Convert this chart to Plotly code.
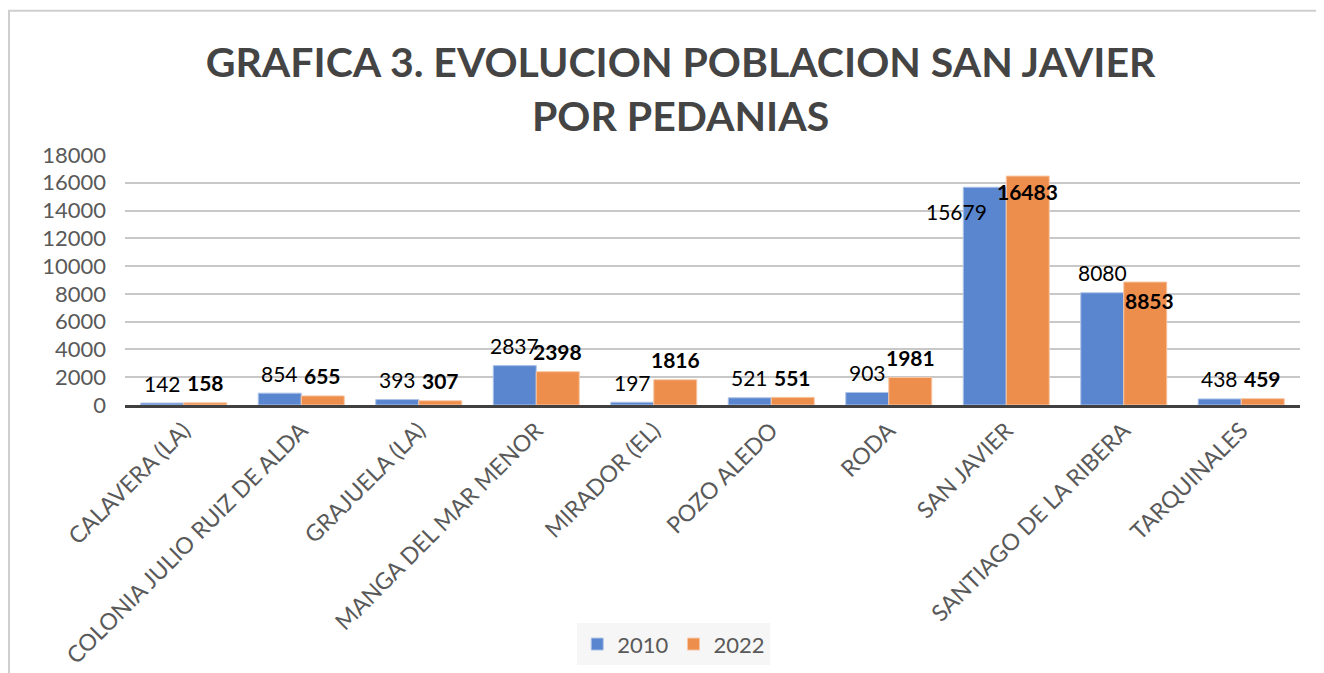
import plotly.graph_objects as go

# Datos de la grafica
pedanias = ["CALAVERA (LA)", "COLONIA JULIO RUIZ DE ALDA", "GRAJUELA (LA)",
            "MANGA DEL MAR MENOR", "MIRADOR (EL)", "POZO ALEDO", "RODA",
            "SAN JAVIER", "SANTIAGO DE LA RIBERA", "TARQUINALES"]
pob_2010 = [142, 854, 393, 2837, 197, 521, 903, 15679, 8080, 438]
pob_2022 = [158, 655, 307, 2398, 1816, 551, 1981, 16483, 8853, 459]
y_ticks = [0, 2000, 4000, 6000, 8000, 10000, 12000, 14000, 16000, 18000]

AZUL = "#5a86cf"
NARANJA = "#ee8e4d"
FUENTE = "Lato"

fig = go.Figure()
fig.add_trace(go.Bar(x=pedanias, y=pob_2010, name="2010",
                     marker=dict(color=AZUL, line=dict(color="#aec3e8", width=1))))
fig.add_trace(go.Bar(x=pedanias, y=pob_2022, name="2022",
                     marker=dict(color=NARANJA, line=dict(color="#f6c7a6", width=1))))

# Etiquetas de datos (algunas movidas a mano como en el original)
ajustes = {("2010", "SAN JAVIER"): (-28, -24),
           ("2022", "SAN JAVIER"): (0, -15),
           ("2022", "SANTIAGO DE LA RIBERA"): (4, -18)}
for serie, valores, dx, negrita in [("2010", pob_2010, -21.5, False),
                                     ("2022", pob_2022, 21.5, True)]:
    for cat, v in zip(pedanias, valores):
        ax, ay = ajustes.get((serie, cat), (0, 20))
        txt = f"<b>{v}</b>" if negrita else str(v)
        fig.add_annotation(x=cat, y=v, text=txt, showarrow=False,
                           xshift=dx + ax, yshift=ay, yanchor="middle",
                           font=dict(family=FUENTE, size=21, color="#000000"))

fig.update_layout(
    width=1324, height=673,
    margin=dict(l=117, r=32, t=147, b=273),
    paper_bgcolor="white", plot_bgcolor="white",
    title=dict(text="<b>GRAFICA 3. EVOLUCION POBLACION SAN JAVIER<br>POR PEDANIAS</b>",
               x=0.508, xanchor="center", y=0.897, yanchor="middle",
               font=dict(family=FUENTE, size=41, color="#444444")),
    font=dict(family=FUENTE, size=20, color="#595959"),
    barmode="group", bargap=0.268, bargroupgap=0,
    showlegend=True,
    legend=dict(orientation="h", x=0.467, xanchor="center", y=-0.957, yanchor="middle",
                bgcolor="#f6f6f6", font=dict(family=FUENTE, size=22, color="#595959")),
    shapes=[dict(type="rect", xref="paper", yref="paper",
                 x0=-0.0987, x1=1.1, y0=-2, y1=1.577,
                 line=dict(color="#cfcfcf", width=2), layer="below")],
)
fig.update_yaxes(range=[0, 18000], tickvals=y_ticks, tickformat="d", showgrid=True,
                 gridcolor="#c8c8c8", gridwidth=2, zeroline=False,
                 ticks="", ticklabelstandoff=18,
                 tickfont=dict(family=FUENTE, size=22, color="#595959"))
fig.update_xaxes(tickangle=-45, showline=True, linecolor="#404040", linewidth=3,
                 ticks="", tickfont=dict(family=FUENTE, size=23, color="#595959"))

fig.write_html("out.html")
